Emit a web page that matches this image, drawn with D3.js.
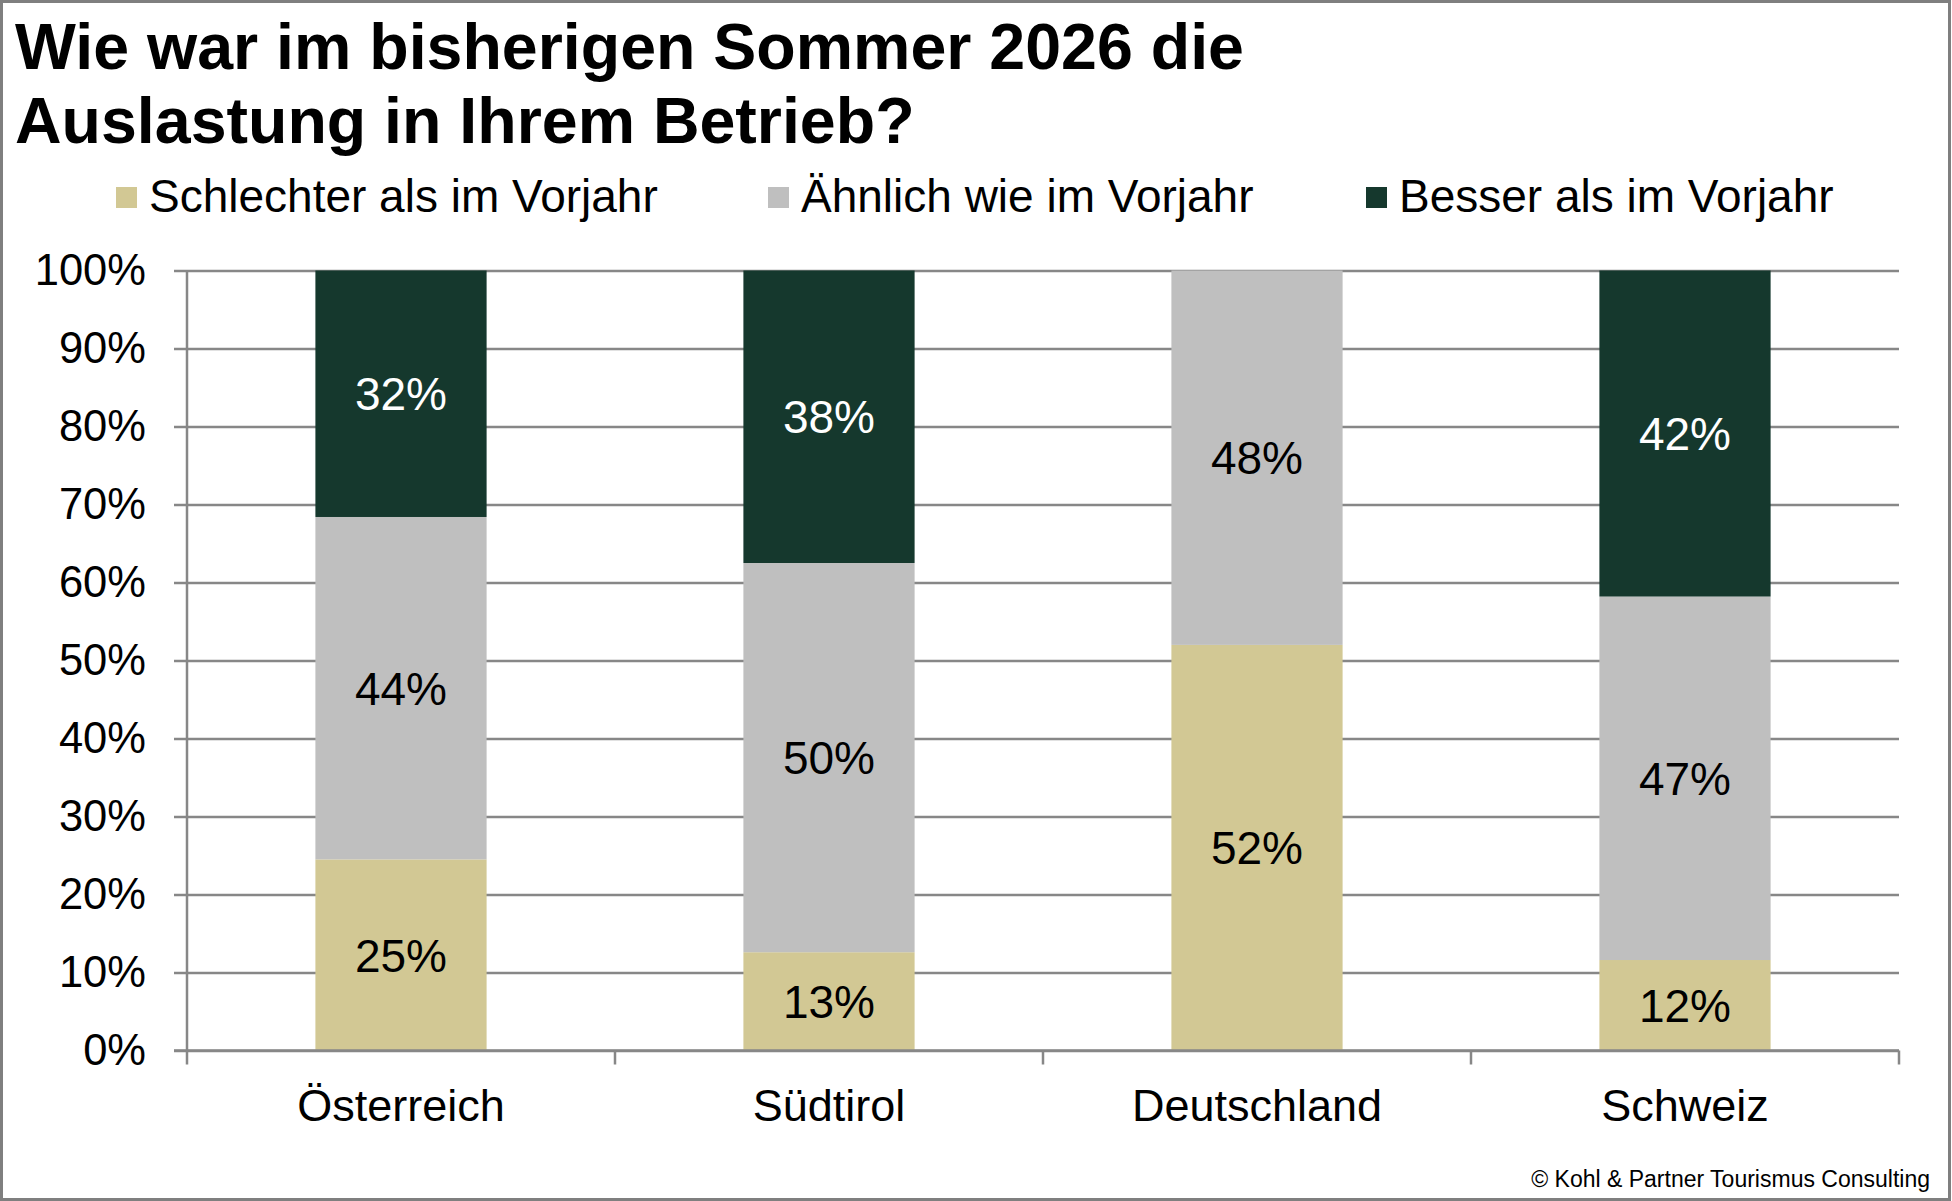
<!DOCTYPE html>
<html>
<head>
<meta charset="utf-8">
<script src="https://cdn.jsdelivr.net/npm/d3@7"></script>
<style>
  body { margin: 0; background: #fff; }
  text { font-family: "Liberation Sans", Arial, sans-serif; }
</style>
</head>
<body>
<svg id="chart" width="1952" height="1201"></svg>
<script>
// data (percent shares, labels show rounded values)
const categories = ['Österreich', 'Südtirol', 'Deutschland', 'Schweiz'];
const seriesNames = ['Schlechter als im Vorjahr', 'Ähnlich wie im Vorjahr', 'Besser als im Vorjahr'];
const schlechter = [24.5, 12.6, 52, 11.6];
const aehnlich = [43.9, 49.9, 48, 46.6];
const besser = [31.6, 37.5, 0, 41.8];
const yTicks = [0, 10, 20, 30, 40, 50, 60, 70, 80, 90, 100];

const colors = ['#d2c894', '#bfbfbf', '#15382d'];
const labelColors = ['#000', '#000', '#fff'];

const MARGIN = {top: 270.5, right: 53, bottom: 150.5, left: 187};
const WIDTH = 1952, HEIGHT = 1201;

const svg = d3.select('#chart');

svg.append('rect')
    .attr('x', 1.5).attr('y', 1.5)
    .attr('width', WIDTH - 4).attr('height', HEIGHT - 3)
    .attr('fill', '#fff')
    .attr('stroke', '#7f7f7f')
    .attr('stroke-width', 3);

// title
const title = svg.append('text')
    .attr('font-size', 64.5)
    .attr('font-weight', 'bold')
    .attr('fill', '#000');
title.append('tspan').attr('x', 15).attr('y', 69).text('Wie war im bisherigen Sommer 2026 die');
title.append('tspan').attr('x', 15).attr('y', 143).text('Auslastung in Ihrem Betrieb?');

// legend
const legendX = [116, 768, 1366];
const legend = svg.append('g')
    .selectAll('g')
    .data(seriesNames)
    .join('g')
    .attr('transform', (d, i) => `translate(${legendX[i]}, 187)`);
legend.append('rect')
    .attr('width', 21).attr('height', 21)
    .attr('fill', (d, i) => colors[i]);
legend.append('text')
    .attr('x', 33).attr('y', 25)
    .attr('font-size', 46)
    .attr('fill', '#000')
    .text(d => d);

// scales
const xScale = d3.scaleBand()
    .domain(categories)
    .range([MARGIN.left, WIDTH - MARGIN.right])
    .paddingInner(0.6)
    .paddingOuter(0.3);

const yScale = d3.scaleLinear()
    .domain([0, 100])
    .range([HEIGHT - MARGIN.bottom, MARGIN.top]);

// gridlines
const grid = svg.append('g')
    .attr('transform', `translate(${MARGIN.left}, 0)`)
    .call(d3.axisLeft(yScale).tickValues(yTicks).tickSize(-(WIDTH - MARGIN.right - MARGIN.left)).tickFormat(''));
grid.select('.domain').remove();
grid.selectAll('line').attr('stroke', '#878787').attr('stroke-width', 2.5);

// y axis
const yAxis = svg.append('g')
    .attr('transform', `translate(${MARGIN.left}, 0)`)
    .call(d3.axisLeft(yScale).tickValues(yTicks).tickFormat(d => d + '%').tickSize(13).tickPadding(28));
yAxis.select('.domain').attr('stroke', '#878787').attr('stroke-width', 2.5).attr('d', `M0,${yScale(0)}V${yScale(100)}`);
yAxis.selectAll('line').attr('stroke', '#878787').attr('stroke-width', 2.5);
yAxis.selectAll('text').attr('font-size', 43.5).attr('fill', '#000')
    .style('font-family', '"Liberation Sans", Arial, sans-serif');

// stacked bars
const rows = categories.map((c, i) => ({
    category: c,
    [seriesNames[0]]: schlechter[i],
    [seriesNames[1]]: aehnlich[i],
    [seriesNames[2]]: besser[i]
}));
const stacked = d3.stack().keys(seriesNames)(rows);

const layers = svg.append('g')
    .selectAll('g')
    .data(stacked)
    .join('g')
    .attr('fill', (d, i) => colors[i]);

layers.selectAll('rect')
    .data(d => d.filter(p => p[1] - p[0] > 0))
    .join('rect')
    .attr('x', d => xScale(d.data.category))
    .attr('width', xScale.bandwidth())
    .attr('y', d => yScale(d[1]))
    .attr('height', d => yScale(d[0]) - yScale(d[1]));

// data labels
stacked.forEach((layer, i) => {
    svg.append('g')
        .selectAll('text')
        .data(layer.filter(p => p[1] - p[0] > 0))
        .join('text')
        .attr('x', d => xScale(d.data.category) + xScale.bandwidth() / 2)
        .attr('y', d => yScale((d[0] + d[1]) / 2))
        .attr('dy', '0.36em')
        .attr('text-anchor', 'middle')
        .attr('font-size', 46)
        .attr('fill', labelColors[i])
        .text(d => Math.round(d[1] - d[0]) + '%');
});

// x axis
const xAxis = svg.append('g')
    .attr('transform', `translate(0, ${yScale(0)})`)
    .call(d3.axisBottom(xScale).tickSize(0).tickPadding(39));
xAxis.select('.domain').attr('stroke', '#878787').attr('stroke-width', 2.5)
    .attr('d', `M${MARGIN.left - 13},0H${WIDTH - MARGIN.right}`);
xAxis.selectAll('text').attr('font-size', 45).attr('fill', '#000')
    .style('font-family', '"Liberation Sans", Arial, sans-serif');

// category boundary ticks
const step = xScale.step();
const boundaries = [categories[0]].concat(categories).map((c, i) =>
    i === 0 ? xScale(c) + xScale.bandwidth() / 2 - step / 2 : xScale(c) + xScale.bandwidth() / 2 + step / 2);
xAxis.selectAll('line.boundary')
    .data(boundaries)
    .join('line')
    .attr('class', 'boundary')
    .attr('x1', d => d).attr('x2', d => d)
    .attr('y1', 0).attr('y2', 14)
    .attr('stroke', '#878787')
    .attr('stroke-width', 2.5);

// footer
svg.append('text')
    .attr('x', 1930).attr('y', 1187)
    .attr('text-anchor', 'end')
    .attr('font-size', 23)
    .attr('fill', '#000')
    .text('© Kohl & Partner Tourismus Consulting');
</script>
</body>
</html>
